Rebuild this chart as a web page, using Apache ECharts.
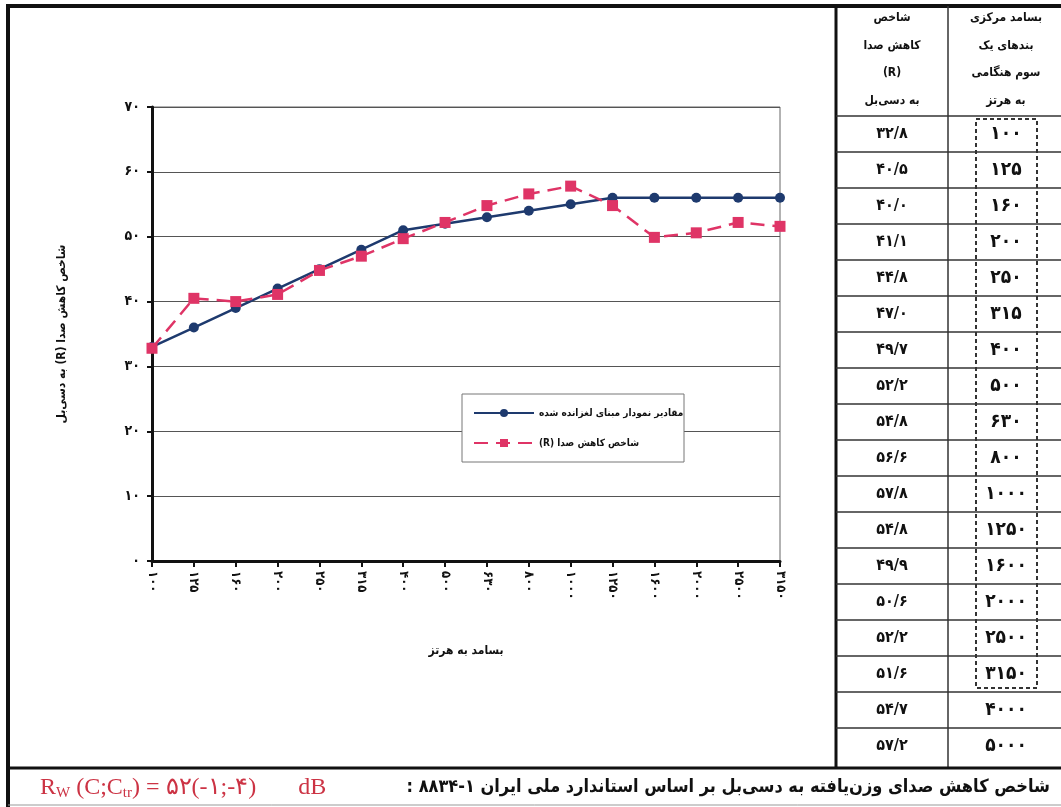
<!DOCTYPE html>
<html>
<head>
<meta charset="utf-8">
<script src="https://cdn.jsdelivr.net/npm/echarts@6.0.0/dist/echarts.min.js"></script>
<style>
  html, body { margin: 0; padding: 0; background: #fff; }
  #main { width: 1061px; height: 807px; }
</style>
</head>
<body>
<div id="main"></div>
<script>
// بسامد مرکزی باندها (هرتز) و شاخص کاهش صدا
const freqs = [100, 125, 160, 200, 250, 315, 400, 500, 630, 800, 1000, 1250, 1600, 2000, 2500, 3150, 4000, 5000]
const rValues = [32.8, 40.5, 40.0, 41.1, 44.8, 47.0, 49.7, 52.2, 54.8, 56.6, 57.8, 54.8, 49.9, 50.6, 52.2, 51.6, 54.7, 57.2]
// نمودار مبنای لغزانده شده (۱۰۰ تا ۳۱۵۰ هرتز)
const refValues = [33, 36, 39, 42, 45, 48, 51, 52, 53, 54, 55, 56, 56, 56, 56, 56]
const chartCount = 16 // فقط ۱۰۰ تا ۳۱۵۰ در نمودار

const faFont = '"DejaVu Sans Condensed", "DejaVu Sans"'
const toFa = s => String(s).replace(/\d/g, d => '۰۱۲۳۴۵۶۷۸۹'[d])
const rtl = s => '\u202B' + s + '\u202C'

const chartCats = freqs.slice(0, chartCount).map(String)
const chartR = rValues.slice(0, chartCount)

// جدول سمت راست
const colDiv = 836
const midDiv = 948
const headBottom = 116
const rowH = 36
const tableBottom = 768
const leftCenter = (colDiv + midDiv) / 2
const rightCenter = 1006

const line = (x1, y1, x2, y2, w, color, dash) => ({
  type: 'line',
  shape: { x1, y1, x2, y2 },
  style: { stroke: color || '#111', lineWidth: w, lineDash: dash || null },
  silent: true
})
const txt = (x, y, text, size, align) => ({
  type: 'text',
  x, y,
  style: {
    text,
    font: 'bold ' + size + 'px ' + faFont,
    fill: '#111',
    align: align || 'center',
    verticalAlign: 'middle'
  },
  silent: true
})

let graphics = []
// قاب بیرونی
graphics.push(line(6, 6, 1061, 6, 4, '#111'))
graphics.push(line(8, 6, 8, 807, 4, '#111'))
graphics.push(line(colDiv, 6, colDiv, tableBottom, 3, '#111'))
graphics.push(line(midDiv, 6, midDiv, tableBottom, 1.5, '#333'))
graphics.push(line(8, tableBottom, 1061, tableBottom, 3, '#111'))
graphics.push(line(8, 805, 1061, 805, 1, '#999'))
graphics.push(line(colDiv, headBottom, 1061, headBottom, 1.5, '#333'))

// سرستون‌ها
const headLeft = ['شاخص', 'کاهش صدا', '(R)', 'به دسی‌بل']
const headRight = ['بسامد مرکزی', 'بندهای یک', 'سوم هنگامی', 'به هرتز']
headLeft.forEach((t, i) => graphics.push(txt(leftCenter, 18 + i * 27.5, rtl(t), 12)))
headRight.forEach((t, i) => graphics.push(txt(rightCenter, 18 + i * 27.5, rtl(t), 12)))

// سطرهای جدول
freqs.forEach((f, i) => {
  const y0 = headBottom + i * rowH
  if (i < freqs.length - 1) graphics.push(line(colDiv, y0 + rowH, 1061, y0 + rowH, 1.5, '#333'))
  graphics.push(txt(leftCenter, y0 + rowH / 2, toFa(rValues[i].toFixed(1)).replace('.', '/'), 16))
  graphics.push(txt(rightCenter, y0 + rowH / 2, toFa(f), 19))
})
// کادر نقطه‌چین دور بسامدهای ۱۰۰ تا ۳۱۵۰
graphics.push({
  type: 'rect',
  shape: { x: 976, y: 119, width: 61, height: headBottom + chartCount * rowH - 123 },
  style: { fill: 'none', stroke: '#333', lineWidth: 2, lineDash: [4, 3] },
  silent: true
})

// کادر راهنما
graphics.push({
  type: 'rect',
  shape: { x: 462, y: 394, width: 222, height: 68 },
  style: { fill: '#fff', stroke: '#777', lineWidth: 1 },
  silent: true,
  z: 2
})

// ردیف پایین
graphics.push(txt(1050, 787, rtl('شاخص کاهش صدای وزن‌یافته به دسی‌بل بر اساس استاندارد ملی ایران ۱-۸۸۳۴ :'), 18, 'right'))
graphics.push({
  type: 'text',
  x: 40,
  y: 788,
  silent: true,
  style: {
    text: '{r|R}{s|W}{r| (C;C}{s|tr}{r|) = ۵۲(-۱;-۴)       dB}',
    verticalAlign: 'middle',
    rich: {
      r: { font: '24px "Liberation Serif"', fill: '#cc3344', verticalAlign: 'middle' },
      s: { font: '15px "Liberation Serif"', fill: '#cc3344', padding: [10, 0, 0, 0] }
    }
  }
})

const myChart = echarts.init(document.getElementById('main'))
const option = {
  backgroundColor: '#fff',
  animation: false,
  grid: {
    left: 152,
    right: 281,
    top: 107,
    bottom: 246,
    show: true,
    borderColor: '#666',
    borderWidth: 1
  },
  legend: {
    orient: 'vertical',
    left: 468,
    top: 403,
    itemWidth: 60,
    itemHeight: 10,
    itemGap: 20,
    z: 5,
    textStyle: { fontFamily: faFont, fontWeight: 'bold', fontSize: 10, color: '#111' },
    data: [
      rtl('مقادیر نمودار مبنای لغزانده شده'),
      rtl('شاخص کاهش صدا (R)')
    ]
  },
  xAxis: {
    type: 'category',
    data: chartCats,
    boundaryGap: false,
    name: rtl('بسامد به هرتز'),
    nameLocation: 'middle',
    nameGap: 84,
    nameTextStyle: { fontFamily: faFont, fontWeight: 'bold', fontSize: 12, color: '#111' },
    axisLine: { lineStyle: { color: '#111', width: 3 } },
    axisTick: { show: true, length: 6, lineStyle: { color: '#111', width: 2 } },
    axisLabel: {
      rotate: -90,
      margin: 10,
      fontFamily: faFont,
      fontWeight: 'bold',
      fontSize: 13,
      color: '#111',
      formatter: v => toFa(v)
    },
    splitLine: { show: false }
  },
  yAxis: {
    type: 'value',
    min: 0,
    max: 70,
    interval: 10,
    name: rtl('شاخص کاهش صدا (R) به دسی‌بل'),
    nameLocation: 'middle',
    nameGap: 84,
    nameTextStyle: { fontFamily: faFont, fontWeight: 'bold', fontSize: 12, color: '#111' },
    axisLine: { show: true, lineStyle: { color: '#111', width: 3 } },
    axisTick: { show: true, length: 5, lineStyle: { color: '#111', width: 2 } },
    axisLabel: {
      margin: 12,
      fontFamily: faFont,
      fontWeight: 'bold',
      fontSize: 14,
      color: '#111',
      formatter: v => toFa(v)
    },
    splitLine: { lineStyle: { color: '#555', width: 1 } }
  },
  series: [
    {
      name: rtl('مقادیر نمودار مبنای لغزانده شده'),
      type: 'line',
      data: refValues,
      symbol: 'circle',
      symbolSize: 10,
      itemStyle: { color: '#1e3a6e' },
      lineStyle: { color: '#1e3a6e', width: 2.5 },
      z: 3
    },
    {
      name: rtl('شاخص کاهش صدا (R)'),
      type: 'line',
      data: chartR,
      symbol: 'rect',
      symbolSize: 11,
      itemStyle: { color: '#df3466' },
      lineStyle: { color: '#df3466', width: 2.5, type: [14, 8] },
      z: 4
    }
  ],
  graphic: graphics
}
myChart.setOption(option)
</script>
</body>
</html>
